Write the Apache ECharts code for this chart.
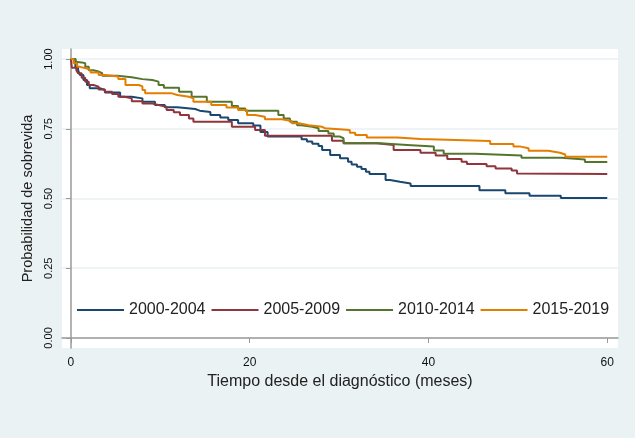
<!DOCTYPE html>
<html>
<head>
<meta charset="utf-8">
<script src="https://cdn.jsdelivr.net/npm/echarts@6/dist/echarts.min.js"></script>
<style>
  html, body { margin: 0; padding: 0; background: #eaf2f3; }
</style>
</head>
<body>
<div id="container" style="width: 635px; height: 438px;"></div>
<script>
    // curvas de Kaplan-Meier: [mes, supervivencia]
    var periodos = ['2000-2004', '2005-2009', '2010-2014', '2015-2019'];
    var colores = ['#1a476f', '#90353b', '#55752f', '#e37e00'];

    var km2000 = [[0,1],[0.5,0.972],[0.8,0.96],[1.0,0.943],[1.4,0.925],[1.8,0.907],[2.1,0.895],[3.3,0.889],[3.8,0.88],
        [5.5,0.865],[6.8,0.859],[8,0.847],[9.4,0.835],[10.5,0.827],[11.9,0.821],[13.9,0.815],[14.4,0.81],[15.6,0.799],
        [16.7,0.79],[17.6,0.781],[18.7,0.77],[20.4,0.762],[21.2,0.738],[22,0.722],[25.8,0.712],[26.4,0.704],[27,0.696],
        [27.7,0.688],[28.1,0.674],[29,0.656],[30.1,0.644],[31,0.632],[31.4,0.622],[32,0.614],[32.5,0.606],[33,0.596],
        [33.4,0.588],[35.2,0.566],[35.7,0.56],[36.8,0.554],[38,0.545],[45.7,0.53],[48.6,0.519],[51.3,0.51],[54.8,0.502],[60,0.502]];

    var km2005 = [[0,1],[0.1,0.969],[0.6,0.96],[0.8,0.949],[1.2,0.933],[1.6,0.919],[2,0.907],[2.5,0.901],[3.1,0.891],
        [3.8,0.883],[4.6,0.875],[5.3,0.865],[6,0.859],[6.8,0.849],[8,0.841],[9,0.835],[9.8,0.829],[10.7,0.817],
        [11.5,0.809],[12.2,0.799],[13.2,0.787],[13.7,0.775],[18,0.757],[20.6,0.746],[21.7,0.725],[29.2,0.707],
        [30.5,0.698],[34.2,0.692],[36.1,0.674],[39.1,0.664],[40.8,0.654],[42.1,0.642],[43.7,0.632],[44.3,0.624],
        [46.5,0.616],[47.5,0.608],[49.3,0.6],[49.9,0.59],[50.1,0.588],[60,0.588]];

    var km2010 = [[0,1],[0.5,0.99],[0.7,0.988],[1.2,0.985],[1.6,0.972],[2,0.96],[2.5,0.955],[3.1,0.949],[3.5,0.94],
        [5.2,0.935],[6.8,0.928],[8,0.925],[9.1,0.919],[9.8,0.907],[10.4,0.897],[12.1,0.883],[13.5,0.865],[15.2,0.847],
        [18,0.832],[18.7,0.823],[19.5,0.815],[23.2,0.799],[23.8,0.787],[24.5,0.775],[25.3,0.763],[25.8,0.757],
        [27,0.752],[27.7,0.742],[28.8,0.733],[29.4,0.722],[30.1,0.716],[30.5,0.698],[34.6,0.692],[37.6,0.686],
        [40.6,0.672],[41.7,0.66],[45.2,0.654],[50.4,0.646],[54.9,0.64],[57.5,0.631],[60,0.631]];

    var km2015 = [[0,1],[0.3,0.985],[0.7,0.972],[1.0,0.966],[1.8,0.96],[2.2,0.952],[3.1,0.943],[3.8,0.937],[5.3,0.928],
        [6.1,0.907],[7.6,0.902],[8,0.889],[8.3,0.877],[11.3,0.871],[11.9,0.865],[13.2,0.859],[13.7,0.847],[15.7,0.835],
        [17.4,0.826],[18.7,0.817],[19.7,0.799],[20.6,0.793],[21.7,0.784],[23.6,0.778],[24.7,0.77],[25.5,0.763],
        [26.6,0.757],[28.1,0.752],[28.4,0.746],[31.2,0.736],[31.8,0.728],[33.1,0.719],[36.5,0.713],[39.1,0.706],
        [46.9,0.695],[49.5,0.686],[50.3,0.68],[51.2,0.671],[53.4,0.664],[54.7,0.658],[55.3,0.65],[60,0.65]];

    var xTicks = [0, 20, 40, 60];
    var yTicks = [0, 0.25, 0.5, 0.75, 1];

    var curvas = [km2000, km2005, km2010, km2015];
    var fuente = 'Liberation Sans, Arial, sans-serif';

    var myChart = echarts.init(document.getElementById('container'));

    var option = {
        backgroundColor: '#eaf2f3',
        animation: false,
        textStyle: {fontFamily: fuente},
        grid: {
            left: 62, right: 17, top: 49, bottom: 90,
            show: true, backgroundColor: '#ffffff', borderWidth: 0
        },
        legend: {
            left: 72, top: 297,
            icon: 'rect', itemWidth: 47, itemHeight: 2, itemGap: 6,
            textStyle: {fontSize: 16, color: '#222', fontFamily: fuente},
            data: periodos
        },
        xAxis: {
            type: 'value',
            min: -1, max: 61.2,
            name: 'Tiempo desde el diagnóstico (meses)',
            nameLocation: 'middle', nameGap: 26,
            nameTextStyle: {fontSize: 16, color: '#222'},
            axisLine: {lineStyle: {color: '#9a9a9a', width: 1.5}},
            axisTick: {customValues: xTicks, length: 5, lineStyle: {color: '#9a9a9a'}},
            axisLabel: {customValues: xTicks, fontSize: 12, color: '#111', margin: 9},
            splitLine: {show: false}
        },
        yAxis: {
            type: 'value',
            min: -0.036, max: 1.036,
            name: 'Probabilidad de sobrevida',
            nameLocation: 'middle', nameGap: 18,
            nameTextStyle: {fontSize: 14.5, color: '#222'},
            axisLine: {show: true, lineStyle: {color: '#9a9a9a', width: 1.5}},
            axisTick: {show: true, customValues: yTicks, length: 5, lineStyle: {color: '#9a9a9a'}},
            axisLabel: {
                customValues: yTicks, fontSize: 11, color: '#111', margin: 8, rotate: 90,
                formatter: function (v) { return v.toFixed(2); }
            },
            splitLine: {show: true, lineStyle: {color: '#eaf2f3', width: 1.5}}
        },
        series: curvas.map(function (d, i) {
            return {
                name: periodos[i],
                type: 'line',
                step: 'end',
                data: d,
                showSymbol: false,
                symbol: 'none',
                color: colores[i],
                lineStyle: {width: 2, color: colores[i]},
                z: 2 + i
            };
        })
    };

    myChart.setOption(option);
</script>
</body>
</html>
